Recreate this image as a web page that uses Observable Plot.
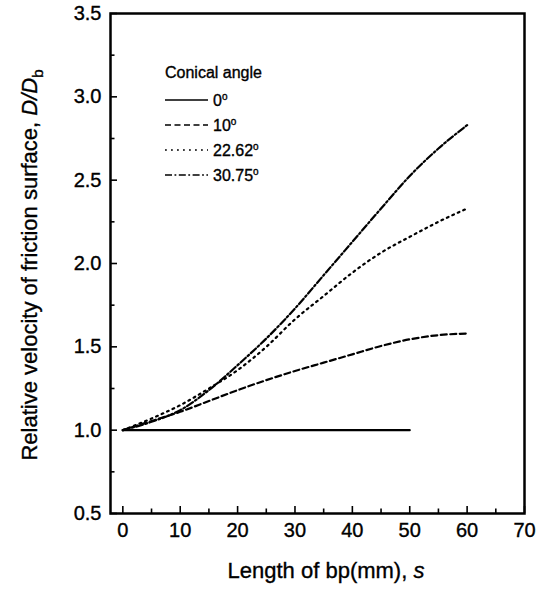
<!DOCTYPE html>
<html><head><meta charset="utf-8">
<script src="https://cdn.jsdelivr.net/npm/d3@7"></script>
<script src="https://cdn.jsdelivr.net/npm/@observablehq/plot@0.6"></script>
<style>
body{margin:0;background:#fff}
svg{font-family: Arial, "Liberation Sans", sans-serif}
svg text{stroke:#000;stroke-width:0.35px}
</style>
</head><body><div id="chart"></div>
<script>
// ---- data ----
const seriesNames = ["0", "10", "22.62", "30.75"];
const s0 = [0, 50];
const v0 = [1.0, 1.0];
const sGrid = [0, 5, 10, 15, 20, 25, 30, 35, 40, 45, 50, 55, 60];
const v10 = [1.00, 1.055, 1.11, 1.175, 1.24, 1.30, 1.355, 1.405, 1.455, 1.505, 1.545, 1.57, 1.58];
const v2262 = [1.00, 1.07, 1.15, 1.25, 1.36, 1.50, 1.665, 1.805, 1.945, 2.065, 2.16, 2.25, 2.33];
const v3075 = [1.00, 1.05, 1.12, 1.24, 1.39, 1.55, 1.73, 1.93, 2.13, 2.33, 2.525, 2.69, 2.83];
const xMajor = [0, 10, 20, 30, 40, 50, 60, 70];
const xMinor = [5, 15, 25, 35, 45, 55, 65];
const yMajor = [0.5, 1.0, 1.5, 2.0, 2.5, 3.0, 3.5];
const yMinor = [0.75, 1.25, 1.75, 2.25, 2.75, 3.25];
const dashes = ["none", "6,3.5", "1.8,4.2", "7,2.5,1.8,2.5"];

const toRows = (xs, ys, name) => xs.map((s, i) => ({s, v: ys[i], series: name}));
const series = [
  toRows(s0, v0, seriesNames[0]),
  toRows(sGrid, v10, seriesNames[1]),
  toRows(sGrid, v2262, seriesNames[2]),
  toRows(sGrid, v3075, seriesNames[3])
];

const fmt = d3.format(".1f");
const chart = Plot.plot({
  width: 545, height: 591,
  marginLeft: 110, marginRight: 21, marginTop: 13, marginBottom: 78,
  style: {fontFamily: "Arial, 'Liberation Sans', sans-serif", fontSize: "20px", color: "#000", background: "#fff"},
  x: {domain: [-2.15, 70], label: null},
  y: {domain: [0.5, 3.5], label: null},
  marks: [
    ...series.map((rows, i) => Plot.line(rows, {x: "s", y: "v", curve: "monotone-x", stroke: "#000", strokeWidth: 2.2, strokeDasharray: dashes[i] === "none" ? null : dashes[i]})),
    Plot.axisX(xMajor, {tickSize: -7, tickFormat: () => "", strokeWidth: 1.6}),
    Plot.axisX(xMinor, {tickSize: -4.5, tickFormat: () => "", strokeWidth: 1.6}),
    Plot.axisX(xMajor, {tickSize: 0, tickPadding: 9, fontSize: 20}),
    Plot.axisY(yMajor, {tickSize: -7, tickFormat: () => "", strokeWidth: 1.6}),
    Plot.axisY(yMinor, {tickSize: -4.5, tickFormat: () => "", strokeWidth: 1.6}),
    Plot.axisY(yMajor, {tickSize: 0, tickPadding: 9, tickFormat: fmt, fontSize: 20}),
    Plot.frame({stroke: "#000", strokeWidth: 2.5})
  ]
});
document.getElementById("chart").appendChild(chart);

const svg = d3.select(chart);
// y title
const yt = svg.append("text")
  .attr("transform", "translate(37,265) rotate(-90)")
  .attr("text-anchor", "middle")
  .attr("font-size", 22).attr("fill", "#000");
yt.append("tspan").text("Relative velocity of friction surface, ");
yt.append("tspan").attr("font-style", "italic").text("D/D");
yt.append("tspan").attr("font-size", 15).attr("dy", 6).text("b");
// x title
const xt = svg.append("text")
  .attr("x", 326).attr("y", 578)
  .attr("text-anchor", "middle")
  .attr("font-size", 22).attr("fill", "#000");
xt.append("tspan").text("Length of bp(mm), ");
xt.append("tspan").attr("font-style", "italic").text("s");

// legend
const lg = svg.append("g").attr("text-anchor", "start").attr("fill", "#000");
lg.append("text").attr("x", 165).attr("y", 78).attr("font-size", 16).text("Conical angle");
seriesNames.forEach((name, i) => {
  const y = 100 + i * 25;
  lg.append("line").attr("x1", 165).attr("x2", 208).attr("y1", y).attr("y2", y)
    .attr("stroke", "#000").attr("stroke-width", 1.5)
    .attr("stroke-dasharray", dashes[i] === "none" ? null : dashes[i]);
  const t = lg.append("text").attr("x", 213).attr("y", y + 6).attr("font-size", 16);
  t.append("tspan").text(name);
  t.append("tspan").attr("font-size", 10).attr("dy", -6).text("o");
});
</script>
</body></html>
